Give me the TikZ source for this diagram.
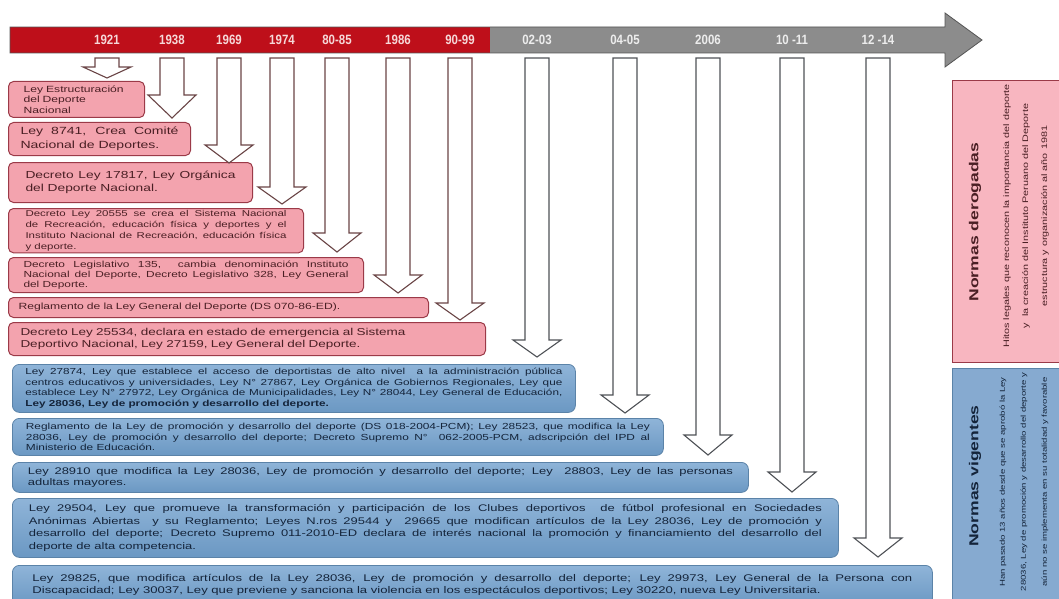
\documentclass[tikz,border=0pt]{standalone}
\usepackage{fontspec}
\setmainfont{Liberation Sans}[FakeStretch=1.35]
\newfontfamily\yearfont{Liberation Sans}[FakeStretch=0.85]
\usetikzlibrary{calc}
\definecolor{BarRed}{HTML}{BE0F1A}
\definecolor{BarGray}{HTML}{8C8C8C}
\definecolor{BarEdge}{HTML}{555555}
\definecolor{YearOld}{HTML}{F6D8D8}
\definecolor{YearNew}{HTML}{EDEDED}
\definecolor{OldFill}{HTML}{F3A3AE}
\definecolor{OldLine}{HTML}{9B3A48}
\definecolor{OldText}{HTML}{4A1F24}
\definecolor{OldPanel}{HTML}{F8B6C0}
\definecolor{NewTop}{HTML}{8FB4D8}
\definecolor{NewBottom}{HTML}{6B98C3}
\definecolor{NewLine}{HTML}{5B83A8}
\definecolor{NewText}{HTML}{14243A}
\definecolor{NewPanel}{HTML}{86AAD0}
\definecolor{DropOld}{HTML}{6A4546}
\definecolor{DropNew}{HTML}{4F5257}
\tikzset{
  yearold/.style={text=YearOld, font=\yearfont\bfseries\fontsize{13.5}{15}\selectfont},
  yearnew/.style={yearold, text=YearNew},
  oldbox/.style={rounded corners=5pt, draw=OldLine, fill=OldFill, line width=1pt,
                 anchor=north west, inner xsep=0pt, inner ysep=2pt, text=OldText},
  newbox/.style={rounded corners=7pt, draw=NewLine, top color=NewTop, bottom color=NewBottom,
                 line width=0.8pt, anchor=north west, inner xsep=0pt, inner ysep=2pt, text=NewText},
  panel/.style={anchor=north west, line width=0.8pt, inner sep=0pt},
  droptip/.style={fill=white, line width=1.1pt, line join=miter},
  dropold/.style={droptip, draw=DropOld},
  dropnew/.style={droptip, draw=DropNew},
}
% hollow block arrow below a year: style, year node, head top, tip (offsets from the year)
\newcommand{\yeardrop}[4]{%
  \draw[#1] ($(#2)+(-12,18)$) -- ($(#2)+(-12,#3)$) -- ($(#2)+(-24,#3)$) -- ($(#2)+(0,#4)$)
    -- ($(#2)+(24,#3)$) -- ($(#2)+(12,#3)$) -- ($(#2)+(12,18)$) -- cycle;}

\begin{document}
\begin{tikzpicture}[x=1pt,y=-1pt]
  \useasboundingbox (0,0) rectangle (1059,599);
  \clip (0,0) rectangle (1059,599);
  \fill[white] (0,0) rectangle (1059,599);

  % timeline
  \fill[BarGray] (490,27) -- (945,27) -- (945,13) -- (982,40) -- (945,67) -- (945,53) -- (490,53) -- cycle;
  \fill[BarRed] (10,27) rectangle (490,53);
  \draw[BarEdge, line width=0.8pt] (10,27) -- (945,27) -- (945,13) -- (982,40) -- (945,67) -- (945,53) -- (10,53) -- cycle;

  \node[yearold] (y1921) at (107,40) {1921};
  \node[yearold] (y1938) at (172,40) {1938};
  \node[yearold] (y1969) at (229,40) {1969};
  \node[yearold] (y1974) at (282,40) {1974};
  \node[yearold] (y8085) at (337,40) {80-85};
  \node[yearold] (y1986) at (398,40) {1986};
  \node[yearold] (y9099) at (460,40) {90-99};
  \node[yearnew] (y0203) at (537,40) {02-03};
  \node[yearnew] (y0405) at (625,40) {04-05};
  \node[yearnew] (y2006) at (708,40) {2006};
  \node[yearnew] (y1011) at (792,40) {10 -11};
  \node[yearnew] (y1214) at (878,40) {12 -14};

  % derogated laws
  \node[oldbox, minimum width=136pt, minimum height=36pt, text width=106pt, align=left,
        font=\fontsize{9}{10.5}\selectfont] (r1) at (8,81)
        {Ley Estructuración\\del Deporte\\Nacional};
  \node[oldbox, minimum width=182pt, minimum height=33pt, text width=158pt, align=justify,
        font=\fontsize{10.4}{14}\selectfont] (r2) at (8,122)
        {Ley 8741, Crea Comité\linebreak Nacional de Deportes.};
  \node[oldbox, minimum width=244pt, minimum height=40pt, text width=210pt, align=justify,
        font=\fontsize{10.2}{13}\selectfont] (r3) at (8,162)
        {Decreto Ley 17817, Ley Orgánica\linebreak del Deporte Nacional.};
  \node[oldbox, minimum width=295pt, minimum height=44pt, text width=261pt, align=justify,
        font=\fontsize{8.5}{10.8}\selectfont] (r4) at (8,208)
        {Decreto Ley 20555 se crea el Sistema Nacional\linebreak de Recreación, educación física y deportes y el\linebreak Instituto Nacional de Recreación, educación física\linebreak y deporte.};
  \node[oldbox, minimum width=355pt, minimum height=35pt, text width=325pt, align=justify,
        font=\fontsize{8.8}{10}\selectfont] (r5) at (8,257)
        {Decreto Legislativo 135,\ \ cambia denominación Instituto\linebreak Nacional del Deporte, Decreto Legislativo 328, Ley General\linebreak del Deporte.};
  \node[oldbox, minimum width=420pt, minimum height=20pt, text width=400pt, align=left,
        font=\fontsize{9}{11}\selectfont] (r6) at (8,297)
        {Reglamento de la Ley General del Deporte (DS 070-86-ED).};
  \node[oldbox, minimum width=477pt, minimum height=33pt, text width=453pt, align=left,
        font=\fontsize{10}{12}\selectfont] (r7) at (8,322)
        {Decreto Ley 25534, declara en estado de emergencia al Sistema\\Deportivo Nacional, Ley 27159, Ley General del Deporte.};

  % laws in force
  \node[newbox, minimum width=563pt, minimum height=48pt, text width=537pt, align=justify,
        font=\fontsize{8.7}{10.5}\selectfont] (v1) at (12,364)
        {Ley 27874, Ley que establece el acceso de deportistas de alto nivel\ \ a la administración pública\linebreak centros educativos y universidades, Ley N° 27867, Ley Orgánica de Gobiernos Regionales, Ley que\linebreak establece Ley N° 27972, Ley Orgánica de Municipalidades, Ley N° 28044, Ley General de Educación,\linebreak \textbf{Ley 28036, Ley de promoción y desarrollo del deporte.}};
  \node[newbox, minimum width=651pt, minimum height=37pt, text width=624pt, align=justify,
        font=\fontsize{8.8}{10.5}\selectfont] (v2) at (12,418)
        {Reglamento de la Ley de promoción y desarrollo del deporte (DS 018-2004-PCM); Ley 28523, que modifica la Ley\linebreak 28036, Ley de promoción y desarrollo del deporte; Decreto Supremo N°\ \ 062-2005-PCM, adscripción del IPD al\linebreak Ministerio de Educación.};
  \node[newbox, minimum width=736pt, minimum height=30pt, text width=705pt, align=justify,
        font=\fontsize{9.6}{11}\selectfont] (v3) at (12,462)
        {Ley 28910 que modifica la Ley 28036, Ley de promoción y desarrollo del deporte; Ley\ \ 28803, Ley de las personas\linebreak adultas mayores.};
  \node[newbox, minimum width=826pt, minimum height=59pt, text width=793pt, align=justify,
        font=\fontsize{9.6}{12.5}\selectfont] (v4) at (12,498)
        {Ley 29504, Ley que promueve la transformación y participación de los Clubes deportivos\ \ de fútbol profesional en Sociedades\linebreak Anónimas Abiertas\ \ y su Reglamento; Leyes N.ros 29544 y\ \ 29665 que modifican artículos de la Ley 28036, Ley de promoción y\linebreak desarrollo del deporte; Decreto Supremo 011-2010-ED declara de interés nacional la promoción y financiamiento del desarrollo del\linebreak deporte de alta competencia.};
  \node[newbox, minimum width=920pt, minimum height=40pt, text width=880pt, align=justify,
        font=\fontsize{9.7}{12}\selectfont] (v5) at (12,565)
        {Ley 29825, que modifica artículos de la Ley 28036, Ley de promoción y desarrollo del deporte; Ley 29973, Ley General de la Persona con\linebreak Discapacidad; Ley 30037, Ley que previene y sanciona la violencia en los espectáculos deportivos; Ley 30220, nueva Ley Universitaria.};

  % side panels
  \node[panel, draw=OldLine, fill=OldPanel, minimum width=110pt, minimum height=282pt] (der) at (952,80) {};
  \node[panel, draw=NewLine, fill=NewPanel, minimum width=110pt, minimum height=236pt] (vig) at (952,368) {};
  \node[rotate=90, text=OldText, font=\fontsize{13}{15}\selectfont\bfseries] (dertitle) at (975,222) {Normas derogadas};
  \node[rotate=90, text=OldText, align=center, font=\fontsize{8}{19}\selectfont] (derbody) at (1026,216)
        {Hitos legales que reconocen la importancia del deporte\\y\ \ la creación del Instituto Peruano del Deporte\\estructura y organización al año 1981};
  \node[rotate=90, text=NewText, font=\fontsize{13}{15}\selectfont\bfseries] (vigtitle) at (975,476) {Normas vigentes};
  \node[rotate=90, text=NewText, align=center, font=\fontsize{7.1}{21}\selectfont] (vigbody) at (1024,482)
        {Han pasado 13 años desde que se aprobó la Ley\\28036, Ley de promoción y desarrollo del deporte y\\aún no se implementa en su totalidad y favorable};

  % arrows from the years
  \yeardrop{dropold}{y1921}{27}{38}
  \yeardrop{dropold}{y1938}{55}{78}
  \yeardrop{dropold}{y1969}{105}{123}
  \yeardrop{dropold}{y1974}{147}{164}
  \yeardrop{dropold}{y8085}{193}{212}
  \yeardrop{dropold}{y1986}{235}{253}
  \yeardrop{dropold}{y9099}{263}{280}
  \yeardrop{dropnew}{y0203}{300}{317}
  \yeardrop{dropnew}{y0405}{355}{373}
  \yeardrop{dropnew}{y2006}{395}{415}
  \yeardrop{dropnew}{y1011}{432}{452}
  \yeardrop{dropnew}{y1214}{498}{517}
\end{tikzpicture}
\end{document}
